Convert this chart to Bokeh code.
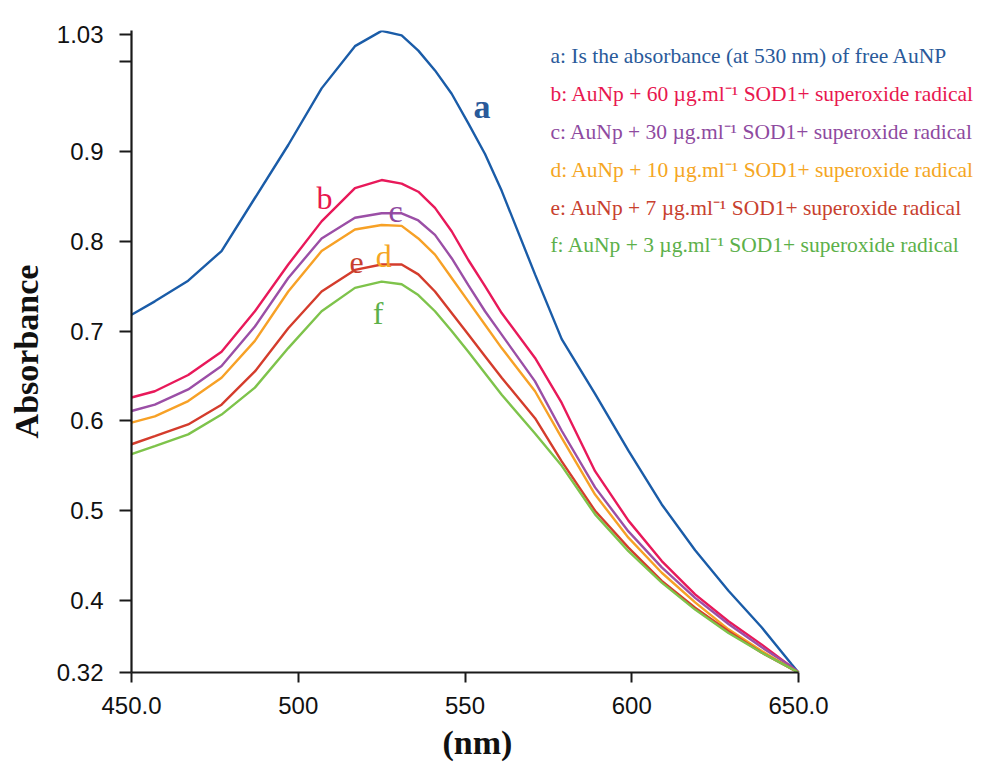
from bokeh.plotting import figure
from bokeh.models import Range1d, FixedTicker, Label, Title
from bokeh.embed import file_html
from bokeh.resources import INLINE

# ---- data ----
wavelength = [450, 457, 467, 477, 487, 497, 507, 517, 525, 531, 536, 541, 546,
              551, 556, 561, 571, 579, 589, 599, 609, 619, 629, 639, 648, 650]
a_vals = [0.718, 0.733, 0.756, 0.789, 0.848, 0.907, 0.970, 1.017, 1.034, 1.029, 1.012, 0.990, 0.964,
          0.931, 0.897, 0.856, 0.763, 0.691, 0.630, 0.567, 0.507, 0.456, 0.411, 0.370, 0.329, 0.320]
b_vals = [0.626, 0.633, 0.651, 0.677, 0.722, 0.774, 0.822, 0.859, 0.868, 0.864, 0.855, 0.837, 0.811,
          0.779, 0.750, 0.720, 0.670, 0.620, 0.544, 0.489, 0.444, 0.407, 0.377, 0.351, 0.326, 0.320]
c_vals = [0.611, 0.618, 0.635, 0.661, 0.705, 0.759, 0.803, 0.826, 0.831, 0.831, 0.823, 0.807, 0.781,
          0.751, 0.722, 0.696, 0.644, 0.589, 0.526, 0.477, 0.437, 0.403, 0.374, 0.348, 0.326, 0.320]
d_vals = [0.598, 0.605, 0.622, 0.648, 0.689, 0.744, 0.789, 0.813, 0.818, 0.817, 0.803, 0.785, 0.759,
          0.733, 0.707, 0.681, 0.633, 0.581, 0.518, 0.470, 0.431, 0.398, 0.368, 0.344, 0.324, 0.320]
e_vals = [0.574, 0.583, 0.596, 0.618, 0.655, 0.703, 0.744, 0.768, 0.774, 0.774, 0.763, 0.744, 0.720,
          0.696, 0.672, 0.648, 0.603, 0.555, 0.500, 0.459, 0.422, 0.392, 0.366, 0.342, 0.324, 0.320]
f_vals = [0.563, 0.572, 0.585, 0.607, 0.637, 0.681, 0.722, 0.748, 0.755, 0.752, 0.740, 0.722, 0.700,
          0.677, 0.653, 0.629, 0.586, 0.550, 0.496, 0.455, 0.420, 0.390, 0.364, 0.342, 0.324, 0.320]

series_keys = ["a", "b", "c", "d", "e", "f"]
legend_texts = [
    "a: Is the absorbance (at 530 nm) of free AuNP",
    "b: AuNp + 60 \u00b5g.ml\u207b\u00b9 SOD1+ superoxide radical",
    "c: AuNp + 30 \u00b5g.ml\u207b\u00b9 SOD1+ superoxide radical",
    "d: AuNp + 10 \u00b5g.ml\u207b\u00b9 SOD1+ superoxide radical",
    "e: AuNp + 7 \u00b5g.ml\u207b\u00b9 SOD1+ superoxide radical",
    "f: AuNp + 3 \u00b5g.ml\u207b\u00b9 SOD1+ superoxide radical",
]
x_ticks = [450, 500, 550, 600, 650]
x_tick_labels = ["450.0", "500", "550", "600", "650.0"]
y_ticks = [0.32, 0.4, 0.5, 0.6, 0.7, 0.8, 0.9, 1.0, 1.03]
y_tick_labels = ["0.32", "0.4", "0.5", "0.6", "0.7", "0.8", "0.9", "", "1.03"]
x_title = "(nm)"
y_title = "Absorbance"

# ---- styling ----
line_colors = ["#1a5ca8", "#e8195a", "#9b4fa6", "#f7a126", "#d43c2c", "#7ec34b"]
text_colors = ["#2a5a9a", "#e8174f", "#8e4aa0", "#f5a623", "#c8402e", "#5cb04a"]

# frame: x 131..976 px (3.335 px per nm), y 30..673 px (900 px per unit)
p = figure(width=976, height=766, output_backend="svg", toolbar_location=None,
           x_range=Range1d(450, 703.37), y_range=Range1d(0.32, 1.0344),
           min_border_left=131, min_border_right=0, min_border_top=30, min_border_bottom=93)
p.outline_line_color = None
p.grid.visible = False
p.background_fill_color = "white"

all_vals = [a_vals, b_vals, c_vals, d_vals, e_vals, f_vals]
for vals, col in zip(all_vals, line_colors):
    p.line(wavelength, vals, line_color=col, line_width=2.4)

for ax in (p.xaxis[0], p.yaxis[0]):
    ax.axis_line_color = "#1a1a1a"
    ax.axis_line_width = 2.2
    ax.major_tick_line_color = "#1a1a1a"
    ax.major_tick_line_width = 2
    ax.major_tick_in = 0
    ax.minor_tick_line_color = None
    ax.major_label_text_font = "Liberation Sans"
    ax.major_label_text_font_size = "24px"
    ax.major_label_text_color = "#111111"

p.xaxis.ticker = FixedTicker(ticks=x_ticks)
p.xaxis.bounds = (450, 650)
p.xaxis.major_label_overrides = {t: l for t, l in zip(x_ticks, x_tick_labels)}
p.xaxis.major_tick_out = 10
p.xaxis.major_label_standoff = 14
p.xaxis.major_label_text_line_height = 1.0

p.yaxis.ticker = FixedTicker(ticks=y_ticks)
p.yaxis.major_label_overrides = {t: l for t, l in zip(y_ticks, y_tick_labels)}
p.yaxis.major_tick_out = 12
p.yaxis.major_label_standoff = 16
p.yaxis.axis_label = y_title
p.yaxis.axis_label_text_font = "Liberation Serif"
p.yaxis.axis_label_text_font_style = "bold"
p.yaxis.axis_label_text_font_size = "34px"
p.yaxis.axis_label_text_color = "#111111"
p.yaxis.axis_label_standoff = 9

p.add_layout(Title(text=x_title, align="left", offset=311, standoff=11,
                   text_font="Liberation Serif", text_font_style="bold",
                   text_font_size="34px", text_line_height=1.0,
                   text_color="#111111"), "below")

# curve letters
letter_x = [555.1, 507.9, 529.2, 525.6, 517.5, 523.9]
letter_y = [0.950, 0.848, 0.833, 0.784, 0.776, 0.720]
for k, lx, ly, col in zip(series_keys, letter_x, letter_y, text_colors):
    p.add_layout(Label(x=lx, y=ly, text=k, text_font="Liberation Serif",
                       text_font_style="bold" if k == "a" else "normal",
                       text_font_size="34px" if k == "a" else "32px",
                       text_align="center", text_baseline="alphabetic", text_color=col))

# legend block
legend_y = [1.0063, 0.9633, 0.9219, 0.8792, 0.8367, 0.7959]
for t, ly, col in zip(legend_texts, legend_y, text_colors):
    p.add_layout(Label(x=575.6, y=ly, text=t, text_font="Liberation Serif",
                       text_font_size="21.5px", text_align="left", text_baseline="alphabetic",
                       text_color=col))

open("out.html", "w").write(file_html(p, INLINE))
